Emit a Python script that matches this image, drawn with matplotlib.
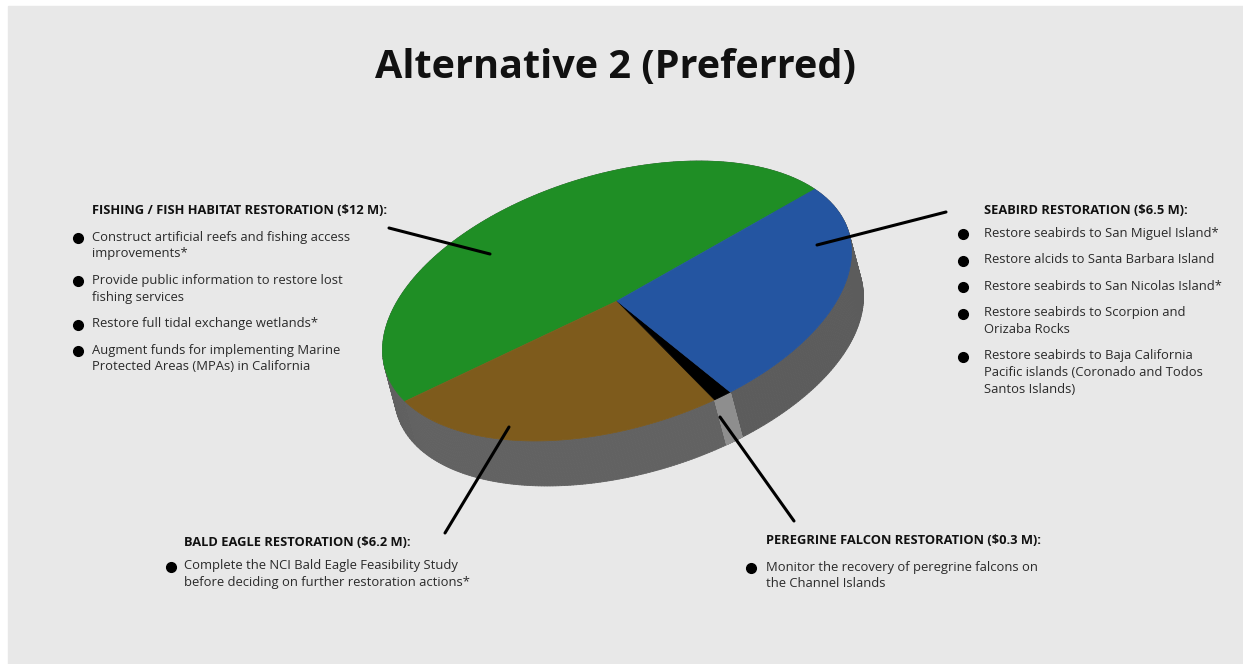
import numpy as np
import matplotlib
matplotlib.use("Agg")
import matplotlib.pyplot as plt
from matplotlib.patches import Polygon, Rectangle
from matplotlib.collections import PolyCollection

# funding by restoration category, $ millions (order around the pie, counter-clockwise)
categories = [
    "FISHING / FISH HABITAT RESTORATION",
    "BALD EAGLE RESTORATION",
    "PEREGRINE FALCON RESTORATION",
    "SEABIRD RESTORATION",
]
funding = [12, 6.2, 0.3, 6.5]
top_colors = ["#1f8e25", "#7e5b1c", "#000000", "#2455a1"]
wall_colors = ["#606060", "#626262", "#8e8e8e", "#5c5c5c"]

fishing_items = [
    "Construct artificial reefs and fishing access\nimprovements*",
    "Provide public information to restore lost\nfishing services",
    "Restore full tidal exchange wetlands*",
    "Augment funds for implementing Marine\nProtected Areas (MPAs) in California",
]
eagle_items = [
    "Complete the NCI Bald Eagle Feasibility Study\nbefore deciding on further restoration actions*",
]
falcon_items = [
    "Monitor the recovery of peregrine falcons on\nthe Channel Islands",
]
seabird_items = [
    "Restore seabirds to San Miguel Island*",
    "Restore alcids to Santa Barbara Island",
    "Restore seabirds to San Nicolas Island*",
    "Restore seabirds to Scorpion and\nOrizaba Rocks",
    "Restore seabirds to Baja California\nPacific islands (Coronado and Todos\nSantos Islands)",
]

W, H = 1243, 664
fig = plt.figure(figsize=(W / 100, H / 100), dpi=100)
ax = fig.add_axes([0, 0, 1, 1])
ax.set_xlim(0, W)
ax.set_ylim(H, 0)
ax.axis("off")
ax.add_patch(Rectangle((8, 6), W, H, color="#e8e8e8", zorder=0))

# tilted disc: ellipse as a linear map of the unit circle (y measured upward)
cx, cy = 617, 301
L = np.array([[234.5, 0.0], [49.0, 131.1]])
depth = np.array([12, 45])
start = 32.5


def rim(t_deg):
    t = np.radians(t_deg)
    xy = L @ np.vstack([np.cos(t), np.sin(t)])
    return np.column_stack([cx + xy[0], cy - xy[1]])


total = sum(funding)
edges = start + np.concatenate([[0], np.cumsum(funding)]) / total * 360

# side walls
for i in range(len(funding)):
    ts = np.linspace(edges[i], edges[i + 1], 120)
    top = rim(ts)
    low = top + depth
    quads = [[top[k], top[k + 1], low[k + 1], low[k]] for k in range(len(ts) - 1)]
    ax.add_collection(PolyCollection(quads, facecolors=wall_colors[i],
                                     edgecolors=wall_colors[i], linewidths=0.6,
                                     zorder=2 + (i == 2)))

# top face
for i in range(len(funding)):
    ts = np.linspace(edges[i], edges[i + 1], 200)
    pts = np.vstack([[cx, cy], rim(ts)])
    ax.add_patch(Polygon(pts, closed=True, facecolor=top_colors[i],
                         edgecolor=top_colors[i], linewidth=0.5, zorder=5))

ax.text(616, 68, "Alternative 2 (Preferred)", ha="center", va="center",
        fontsize=28.5, fontweight="bold", family="Open Sans", color="#111111")

blocks = [
    # header x, header y, bullet x, first item gap
    (92, 210, 78, fishing_items, 27),
    (184, 542, 171, eagle_items, 24),
    (766, 541, 751, falcon_items, 26),
    (984, 211, 963, seabird_items, 22),
]
line_gap, item_gap = 16.8, 26.5
for (hx, hy, bx, items, first_gap), cat, val in zip(blocks, categories, funding):
    ax.text(hx, hy, f"{cat} (\\${val:g} M):", ha="left", va="center",
            fontsize=9.3, fontweight="bold", family="Open Sans", color="#111111")
    y = hy + first_gap
    for item in items:
        ax.plot(bx, y + 1, "o", ms=7, color="#000000", zorder=6)
        for ln in item.split("\n"):
            ax.text(hx, y, ln, ha="left", va="center", fontsize=9.4,
                    family="Open Sans", color="#2a2a2a")
            y += line_gap
        y += item_gap - line_gap

# leader lines from each heading to its slice
leaders = [
    ((389, 228), (490, 254)),
    ((445, 533), (509, 427)),
    ((794, 521), (720, 417)),
    ((946, 212), (817, 245)),
]
for (x0, y0), (x1, y1) in leaders:
    ax.plot([x0, x1], [y0, y1], color="#000000", lw=2.2, solid_capstyle="round",
            zorder=7)

fig.savefig("out.png", dpi=100, facecolor="white")
